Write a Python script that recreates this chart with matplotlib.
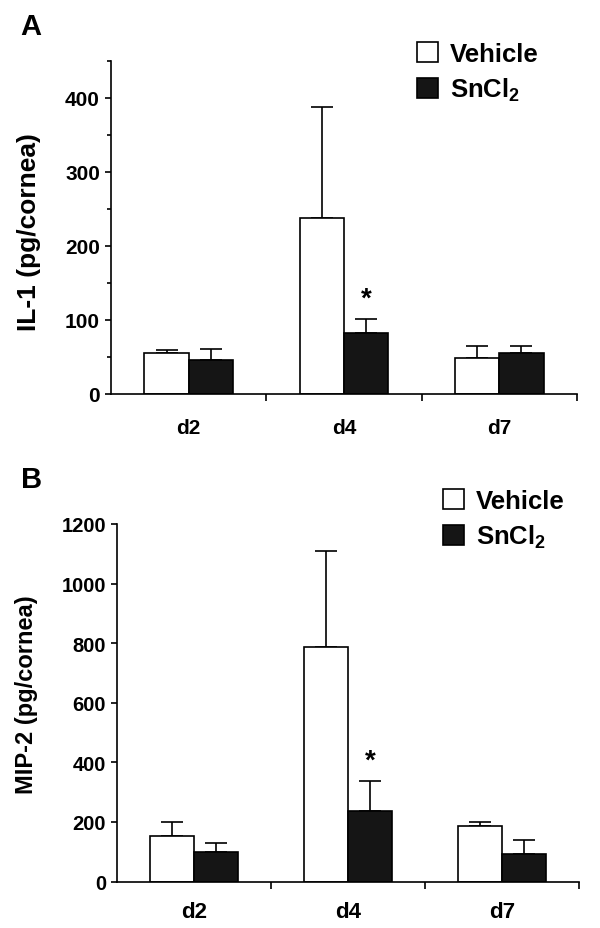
import numpy as np
import matplotlib
matplotlib.use("Agg")
import matplotlib.pyplot as plt
from matplotlib.ticker import MultipleLocator, FixedLocator

plt.rcParams["font.family"] = ["Liberation Sans", "DejaVu Sans"]
plt.rcParams["font.weight"] = "bold"
plt.rcParams["mathtext.fontset"] = "custom"
plt.rcParams["mathtext.rm"] = "Liberation Sans:bold"
plt.rcParams["mathtext.it"] = "Liberation Sans:bold"
plt.rcParams["mathtext.bf"] = "Liberation Sans:bold"

days = ["d2", "d4", "d7"]

# panel A: IL-1 (pg/cornea)
il1_vehicle = [55, 238, 48]
il1_vehicle_err = [5, 150, 17]
il1_sncl2 = [46, 82, 55]
il1_sncl2_err = [15, 19, 10]

# panel B: MIP-2 (pg/cornea)
mip2_vehicle = [154, 788, 186]
mip2_vehicle_err = [47, 322, 13]
mip2_sncl2 = [98, 236, 93]
mip2_sncl2_err = [32, 100, 47]

W, H = 600, 929
fig = plt.figure(figsize=(W / 100, H / 100), dpi=100)


def fx(px):
    return px / W


def fy(py):
    return 1 - py / H


def draw_panel(ax, veh, veh_err, sn, sn_err, ymax, major, minor, ylabel,
               ylabel_size, tick_size, xlab_size, xpad, star_y):
    x = np.arange(len(days))
    w = 0.285
    b1 = ax.bar(x - w / 2, veh, w, color="white", edgecolor="black",
                linewidth=1.2, label="Vehicle", zorder=2)
    b2 = ax.bar(x + w / 2, sn, w, color="#151515", edgecolor="black",
                linewidth=1.2, label="SnCl$_2$", zorder=2)
    ax.errorbar(x - w / 2, veh, yerr=[np.zeros(3), veh_err], fmt="none",
                ecolor="black", elinewidth=1.2, capsize=8, capthick=1.2, zorder=1)
    ax.errorbar(x + w / 2, sn, yerr=[np.zeros(3), sn_err], fmt="none",
                ecolor="black", elinewidth=1.2, capsize=8, capthick=1.2, zorder=1)
    # significance marker over the d4 SnCl2 bar
    ax.text(1 + w / 2, star_y, "*", ha="center", va="center", fontsize=20,
            fontweight="bold")

    ax.set_xlim(-0.5, 2.5)
    ax.set_ylim(0, ymax)
    ax.set_xticks(x)
    ax.set_xticklabels(days, fontsize=xlab_size, fontweight="bold")
    ax.xaxis.set_minor_locator(FixedLocator([0.5, 1.5, 2.5]))
    ax.tick_params(axis="x", which="major", length=0, pad=xpad)
    ax.tick_params(axis="x", which="minor", length=5, width=1.2, direction="out")
    ax.yaxis.set_major_locator(MultipleLocator(major))
    if minor:
        ax.yaxis.set_minor_locator(MultipleLocator(minor))
        ax.tick_params(axis="y", which="minor", length=3, width=1.2)
    ax.tick_params(axis="y", which="major", length=4, width=1.2,
                   labelsize=tick_size, pad=4)
    for lbl in ax.get_yticklabels():
        lbl.set_fontweight("bold")
    ax.set_ylabel(ylabel, fontsize=ylabel_size, fontweight="bold")
    for s in ["top", "right"]:
        ax.spines[s].set_visible(False)
    for s in ["left", "bottom"]:
        ax.spines[s].set_linewidth(1.2)
    return b1, b2


axA = fig.add_axes([fx(111), fy(395), fx(577 - 111), (395 - 62) / H])
hA = draw_panel(axA, il1_vehicle, il1_vehicle_err, il1_sncl2, il1_sncl2_err,
                450, 100, 50, "IL-1 (pg/cornea)", 19, 15, 15, 17, 129)
axA.yaxis.set_label_coords(-0.15, 0.49)

axB = fig.add_axes([fx(117), fy(882.5), fx(579 - 117), (882.5 - 525) / H])
hB = draw_panel(axB, mip2_vehicle, mip2_vehicle_err, mip2_sncl2, mip2_sncl2_err,
                1200, 200, None, "MIP-2 (pg/cornea)", 17, 14.5, 16, 14, 406)
axB.yaxis.set_label_coords(-0.172, 0.525)

for ax, handles, lx, ly in [(axA, hA, 417, 42.5), (axB, hB, 443, 490)]:
    ax.legend(handles=handles, loc="upper left",
              bbox_to_anchor=(fx(lx), fy(ly)), bbox_transform=fig.transFigure,
              frameon=False, handlelength=0.82, handleheight=0.82,
              handletextpad=0.45, labelspacing=0.4, borderpad=0, borderaxespad=0,
              prop={"weight": "bold", "size": 18.5})

fig.text(fx(20), fy(35), "A", fontsize=21, fontweight="bold")
fig.text(fx(21), fy(488), "B", fontsize=21, fontweight="bold")

fig.savefig("out.png", dpi=100)
